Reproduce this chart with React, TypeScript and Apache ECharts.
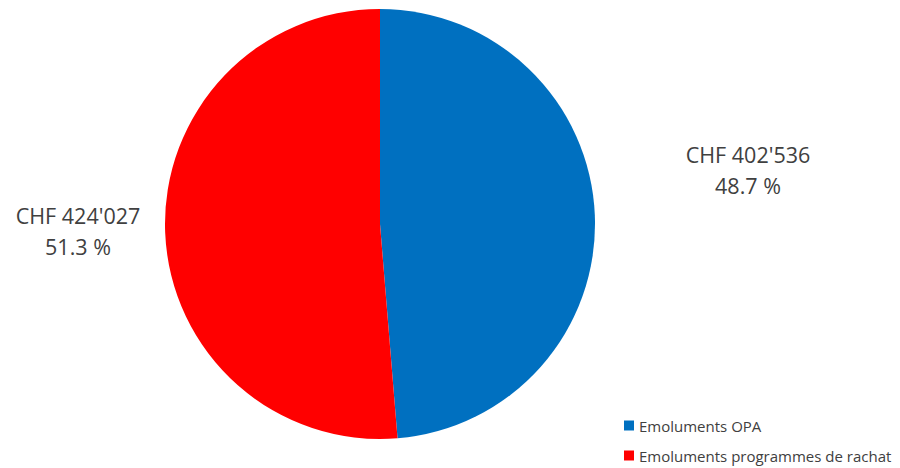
import React, { useEffect, useRef } from "react";
import * as echarts from "echarts";

const categories = ["Emoluments OPA", "Emoluments programmes de rachat"];
const amounts = [402536, 424027];
const amountLabels = ["CHF 402'536", "CHF 424'027"];
const percentLabels = ["48.7 %", "51.3 %"];
const colors = ["#0070C0", "#FF0000"];

export default function App() {
  const ref = useRef<HTMLDivElement>(null);
  useEffect(() => {
    if (!ref.current) return;
    const chart = echarts.init(ref.current, null, { renderer: "svg" });
    const labelPos = [
      { x: 748, y: 170 },
      { x: 78, y: 231 },
    ];
    const legendBase = {
      orient: "vertical",
      left: 619,
      itemWidth: 10,
      itemHeight: 10,
      icon: "rect",
      textStyle: { fontSize: 15, color: "#404040", fontFamily: "Open Sans" },
    };
    chart.setOption({
      animation: false,
      backgroundColor: "#ffffff",
      textStyle: { fontFamily: "Open Sans" },
      legend: [
        { ...legendBase, top: 413, data: [categories[0]] },
        { ...legendBase, top: 443, data: [categories[1]] },
      ],
      series: [
        {
          type: "pie",
          center: [380, 224],
          radius: 215,
          startAngle: 90,
          clockwise: true,
          avoidLabelOverlap: false,
          itemStyle: { borderWidth: 0 },
          emphasis: { disabled: true },
          data: categories.map((c, i) => ({
            name: c,
            value: amounts[i],
            itemStyle: { color: colors[i] },
          })),
          label: {
            show: true,
            position: "outside",
            formatter: (p: any) =>
              amountLabels[p.dataIndex] + "\n" + percentLabels[p.dataIndex],
            fontSize: 21.5,
            lineHeight: 31,
            color: "#404040",
            fontFamily: "Open Sans",
            align: "center",
          },
          labelLine: { show: false },
          labelLayout: (p: any) => ({
            x: labelPos[p.dataIndex].x,
            y: labelPos[p.dataIndex].y,
            align: "center",
            verticalAlign: "middle",
          }),
        },
      ],
    });
    return () => chart.dispose();
  }, []);
  return (
    <div
      ref={ref}
      style={{ position: "fixed", left: 0, top: 0, width: 900, height: 468 }}
    />
  );
}
